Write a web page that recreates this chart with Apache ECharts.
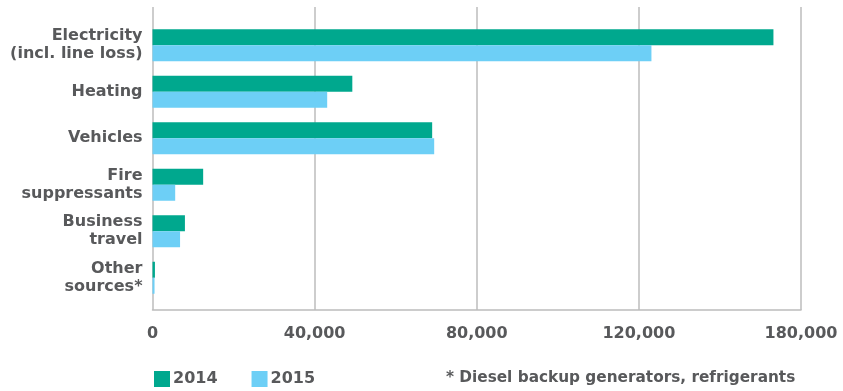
<!DOCTYPE html>
<html>
<head>
<meta charset="utf-8">
<script src="https://cdn.jsdelivr.net/npm/echarts@6/dist/echarts.min.js"></script>
<style>
  html, body { margin: 0; padding: 0; background: #ffffff; }
  #chart { width: 843px; height: 391px; }
</style>
</head>
<body>
<div id="chart"></div>
<script>
// Emission sources, top to bottom
const categories = [
  'Electricity\n(incl. line loss)',
  'Heating',
  'Vehicles',
  'Fire\nsuppressants',
  'Business\ntravel',
  'Other\nsources*'
];
const seriesNames = ['2014', '2015'];
const values2014 = [153200, 49300, 69000, 12500, 8000, 600];
const values2015 = [123100, 43100, 69500, 5600, 6800, 500];
// Axis ticks and the text printed under each one
const tickValues = [0, 40000, 80000, 120000, 160000];
const tickLabels = ['0', '40,000', '80,000', '120,000', '180,000'];
const footnote = '* Diesel backup generators, refrigerants';

const FONT = 'DejaVu Sans';
const TEXT = '#58595b';
const GRID = '#bcbcbc';
const C2014 = '#00a88e';
const C2015 = '#6dcff6';
const AXIS_MAX = tickValues[tickValues.length - 1];
const STEP = tickValues[1] - tickValues[0];

const chart = echarts.init(document.getElementById('chart'), null, { renderer: 'canvas' });

chart.setOption({
  animation: false,
  backgroundColor: '#ffffff',
  textStyle: { fontFamily: FONT },
  grid: [
    // frame: gridlines, baseline and value labels
    { left: 152.5, right: 42, top: 7, bottom: 81 },
    // bars and category labels
    { left: 152.5, right: 42, top: 22, bottom: 90 }
  ],
  xAxis: [
    {
      gridIndex: 0, type: 'value', min: 0, max: AXIS_MAX, interval: STEP,
      axisLine: { show: true, lineStyle: { color: GRID, width: 1.5 } },
      axisTick: { show: false },
      splitLine: { show: true, lineStyle: { color: GRID, width: 1.5 } },
      axisLabel: {
        margin: 16, color: TEXT, fontFamily: FONT, fontWeight: 'bold', fontSize: 16,
        align: 'center',
        formatter: v => tickLabels[Math.round(v / STEP)] || ''
      }
    },
    {
      gridIndex: 1, type: 'value', min: 0, max: AXIS_MAX, interval: STEP, show: false
    }
  ],
  yAxis: [
    { gridIndex: 0, type: 'value', min: 0, max: 1, show: false },
    {
      gridIndex: 1, type: 'category', inverse: true, data: categories,
      axisLine: { show: false }, axisTick: { show: false },
      axisLabel: {
        margin: 10, color: TEXT, fontFamily: FONT, fontWeight: 'bold', fontSize: 16,
        lineHeight: 18, align: 'right'
      }
    }
  ],
  legend: {
    left: 154, top: 371, padding: 0,
    itemWidth: 16, itemHeight: 16, itemGap: 34,
    icon: 'rect',
    data: seriesNames,
    textStyle: { color: TEXT, fontFamily: FONT, fontWeight: 'bold', fontSize: 16, padding: [0, 0, 0, -2] }
  },
  graphic: [
    {
      type: 'text', left: 446, top: 371,
      style: { text: footnote, fill: TEXT, font: 'bold 15.3px "DejaVu Sans"' }
    }
  ],
  series: [
    {
      name: seriesNames[0], type: 'bar', xAxisIndex: 1, yAxisIndex: 1,
      data: values2014, barWidth: 16, barGap: '0%',
      itemStyle: { color: C2014 }
    },
    {
      name: seriesNames[1], type: 'bar', xAxisIndex: 1, yAxisIndex: 1,
      data: values2015, barWidth: 16, barGap: '0%',
      itemStyle: { color: C2015 }
    }
  ]
});
</script>
</body>
</html>
